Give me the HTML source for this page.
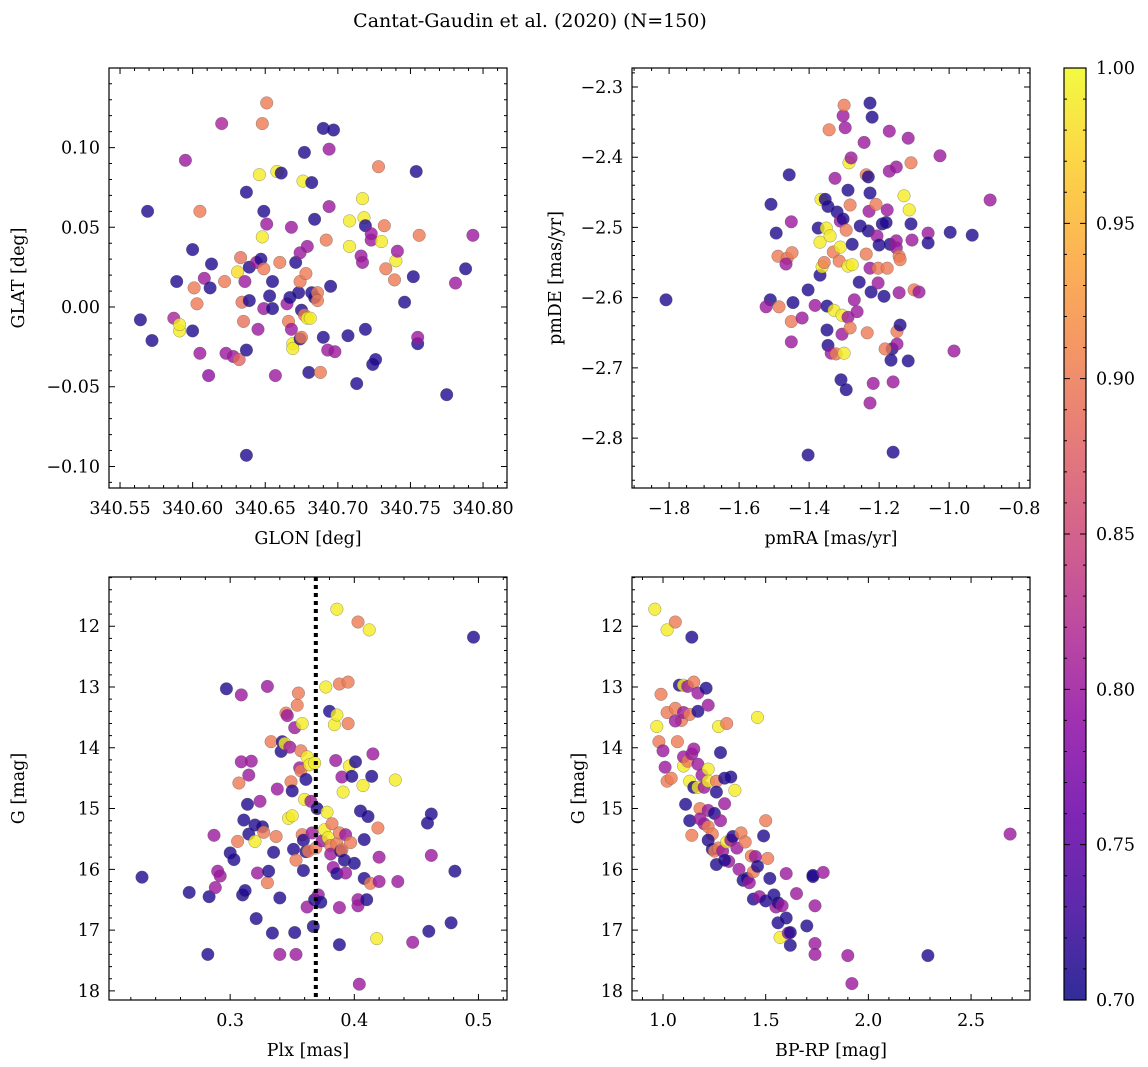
<!DOCTYPE html>
<html><head><meta charset="utf-8">
<style>
html,body{margin:0;padding:0;background:#fff;}
svg{display:block;font-family:"DejaVu Serif","Liberation Serif",serif;}
</style></head>
<body>
<svg id="chart" width="1148" height="1067" viewBox="0 0 1148 1067">
<defs>
<linearGradient id="plasma" x1="0" y1="1" x2="0" y2="0">
<stop offset="0" stop-color="#0d0887"/><stop offset="0.1" stop-color="#41049d"/><stop offset="0.2" stop-color="#6a00a8"/><stop offset="0.3" stop-color="#8f0da4"/><stop offset="0.4" stop-color="#b12a90"/><stop offset="0.5" stop-color="#cc4778"/><stop offset="0.6" stop-color="#e16462"/><stop offset="0.7" stop-color="#f2844b"/><stop offset="0.8" stop-color="#fca636"/><stop offset="0.9" stop-color="#fcce25"/><stop offset="1" stop-color="#f0f921"/>
</linearGradient>
</defs>
<text x="530" y="27" text-anchor="middle" font-size="19">Cantat-Gaudin et al. (2020) (N=150)</text>
</svg>
<script>
// ---- Panel 1: sky positions ----
const glon=[340.569,340.572,340.564,340.589,340.600,340.600,340.595,340.587,340.591,340.591,340.601,340.605,340.603,340.608,340.605,340.611,340.613,340.612,340.620,340.622,340.623,340.628,340.631,340.632,340.633,340.634,340.635,340.636,340.637,340.637,340.637,340.639,340.639,340.645,340.644,340.648,340.648,340.646,340.649,340.647,340.649,340.651,340.651,340.649,340.655,340.653,340.655,340.658,340.661,340.657,340.660,340.665,340.667,340.666,340.668,340.669,340.669,340.668,340.671,340.673,340.674,340.675,340.674,340.674,340.675,340.676,340.677,340.677,340.678,340.679,340.679,340.681,340.680,340.682,340.682,340.684,340.684,340.686,340.686,340.688,340.690,340.690,340.692,340.694,340.693,340.697,340.694,340.695,340.698,340.707,340.708,340.708,340.713,340.716,340.717,340.717,340.718,340.719,340.719,340.723,340.723,340.724,340.726,340.728,340.730,340.732,340.733,340.740,340.739,340.741,340.746,340.752,340.754,340.755,340.756,340.755,340.775,340.781,340.788,340.793];
const glat=[0.060,-0.021,-0.008,0.016,0.036,-0.015,0.092,-0.007,-0.015,-0.011,0.012,0.060,0.002,0.018,-0.029,-0.043,0.027,0.012,0.115,0.016,-0.029,-0.031,0.022,-0.033,0.031,0.003,-0.009,0.016,-0.093,0.072,-0.027,0.025,0.004,-0.014,0.028,0.115,0.044,0.083,0.060,0.030,-0.001,0.128,0.052,0.024,0.016,0.007,-0.001,0.085,0.084,-0.043,0.028,0.002,0.006,-0.009,0.050,-0.023,-0.026,-0.014,0.028,0.009,-0.020,-0.019,0.034,0.016,-0.002,0.079,0.097,-0.005,0.021,0.038,-0.007,-0.007,-0.041,0.009,0.078,0.055,0.006,0.009,0.004,-0.041,-0.019,0.112,0.042,0.099,-0.027,0.111,0.063,0.013,-0.028,-0.018,0.054,0.038,-0.048,0.032,0.028,0.068,0.056,0.051,-0.014,0.042,0.046,-0.036,-0.033,0.088,0.041,0.051,0.024,0.029,0.017,0.035,0.003,0.019,0.085,-0.023,0.045,-0.019,-0.055,0.015,0.024,0.045];
const probSky=[0.71,0.71,0.71,0.71,0.71,0.71,0.80,0.81,0.99,0.99,0.90,0.90,0.90,0.80,0.80,0.79,0.71,0.71,0.81,0.90,0.80,0.80,0.98,0.88,0.89,0.89,0.89,0.80,0.71,0.71,0.71,0.71,0.71,0.80,0.80,0.90,0.99,0.99,0.71,0.71,0.80,0.90,0.80,0.90,0.71,0.71,0.71,0.99,0.71,0.80,0.90,0.80,0.71,0.90,0.80,0.99,0.99,0.80,0.71,0.71,0.71,0.90,0.80,0.90,0.71,0.99,0.71,0.90,0.90,0.80,0.99,0.99,0.71,0.71,0.71,0.71,0.71,0.90,0.90,0.90,0.71,0.71,0.90,0.80,0.80,0.71,0.80,0.71,0.80,0.71,0.99,0.99,0.71,0.80,0.80,0.99,0.99,0.71,0.71,0.80,0.80,0.71,0.71,0.90,0.99,0.90,0.90,0.99,0.90,0.80,0.71,0.71,0.71,0.71,0.90,0.80,0.71,0.80,0.71,0.80];
// ---- Panel 2: proper motions ----
const pmra=[-1.809,-1.509,-1.494,-1.511,-1.523,-1.486,-1.489,-1.463,-1.457,-1.466,-1.449,-1.451,-1.451,-1.446,-1.451,-1.420,-1.403,-1.403,-1.383,-1.369,-1.374,-1.369,-1.366,-1.363,-1.357,-1.354,-1.346,-1.351,-1.349,-1.349,-1.346,-1.343,-1.340,-1.337,-1.331,-1.329,-1.326,-1.323,-1.320,-1.314,-1.311,-1.311,-1.309,-1.306,-1.306,-1.303,-1.303,-1.300,-1.300,-1.297,-1.294,-1.289,-1.286,-1.289,-1.289,-1.283,-1.294,-1.280,-1.283,-1.277,-1.277,-1.271,-1.263,-1.257,-1.254,-1.243,-1.237,-1.237,-1.234,-1.231,-1.226,-1.220,-1.226,-1.231,-1.229,-1.226,-1.223,-1.226,-1.217,-1.209,-1.206,-1.203,-1.200,-1.203,-1.191,-1.186,-1.180,-1.177,-1.171,-1.171,-1.169,-1.163,-1.177,-1.183,-1.166,-1.160,-1.160,-1.151,-1.149,-1.149,-1.151,-1.151,-1.143,-1.140,-1.143,-1.140,-1.129,-1.117,-1.117,-1.114,-1.109,-1.109,-1.106,-1.100,-1.086,-1.060,-1.060,-1.026,-0.997,-0.986,-0.934,-0.883];
const pmde=[-2.603,-2.467,-2.508,-2.603,-2.613,-2.613,-2.541,-2.544,-2.425,-2.552,-2.536,-2.492,-2.634,-2.607,-2.663,-2.629,-2.589,-2.824,-2.611,-2.568,-2.501,-2.521,-2.460,-2.556,-2.550,-2.460,-2.470,-2.501,-2.612,-2.646,-2.668,-2.361,-2.512,-2.679,-2.535,-2.618,-2.430,-2.680,-2.478,-2.548,-2.528,-2.491,-2.717,-2.652,-2.625,-2.488,-2.341,-2.326,-2.679,-2.358,-2.504,-2.447,-2.408,-2.555,-2.628,-2.643,-2.731,-2.401,-2.468,-2.553,-2.524,-2.603,-2.620,-2.578,-2.498,-2.379,-2.425,-2.538,-2.650,-2.505,-2.323,-2.343,-2.451,-2.428,-2.477,-2.558,-2.592,-2.750,-2.722,-2.467,-2.512,-2.558,-2.525,-2.579,-2.495,-2.598,-2.493,-2.475,-2.420,-2.363,-2.524,-2.673,-2.558,-2.673,-2.689,-2.820,-2.720,-2.519,-2.666,-2.648,-2.529,-2.414,-2.541,-2.546,-2.593,-2.639,-2.455,-2.373,-2.690,-2.475,-2.495,-2.408,-2.518,-2.589,-2.592,-2.508,-2.522,-2.398,-2.507,-2.676,-2.511,-2.461];
const probPm=[0.71,0.71,0.71,0.71,0.80,0.90,0.90,0.90,0.71,0.80,0.90,0.80,0.90,0.71,0.80,0.80,0.71,0.71,0.80,0.71,0.71,0.99,0.99,0.99,0.90,0.71,0.71,0.99,0.71,0.71,0.71,0.90,0.99,0.80,0.90,0.99,0.80,0.90,0.71,0.90,0.99,0.80,0.71,0.80,0.99,0.71,0.80,0.90,0.99,0.80,0.90,0.71,0.99,0.99,0.80,0.90,0.71,0.80,0.90,0.99,0.71,0.80,0.80,0.71,0.71,0.80,0.90,0.90,0.90,0.71,0.71,0.71,0.71,0.71,0.80,0.80,0.71,0.80,0.80,0.90,0.80,0.90,0.71,0.80,0.71,0.71,0.71,0.80,0.80,0.80,0.71,0.71,0.90,0.90,0.71,0.71,0.80,0.80,0.80,0.90,0.80,0.80,0.90,0.90,0.80,0.71,0.99,0.80,0.71,0.99,0.71,0.90,0.80,0.90,0.80,0.80,0.71,0.80,0.71,0.80,0.71,0.80];
// ---- Panel 3: parallax vs G ----
const plx=[0.229,0.267,0.283,0.282,0.287,0.288,0.290,0.292,0.297,0.300,0.303,0.306,0.307,0.309,0.309,0.310,0.311,0.312,0.314,0.315,0.315,0.317,0.320,0.320,0.321,0.322,0.324,0.326,0.327,0.330,0.330,0.331,0.333,0.334,0.335,0.337,0.338,0.340,0.341,0.340,0.342,0.344,0.345,0.346,0.347,0.348,0.349,0.350,0.350,0.351,0.352,0.352,0.353,0.353,0.354,0.355,0.356,0.357,0.357,0.358,0.358,0.359,0.359,0.360,0.361,0.361,0.362,0.362,0.363,0.364,0.365,0.366,0.367,0.368,0.368,0.369,0.370,0.371,0.373,0.374,0.376,0.377,0.378,0.379,0.380,0.381,0.381,0.382,0.383,0.384,0.385,0.386,0.386,0.386,0.386,0.388,0.388,0.388,0.388,0.389,0.390,0.390,0.391,0.392,0.393,0.393,0.395,0.395,0.396,0.397,0.398,0.400,0.401,0.403,0.403,0.403,0.404,0.405,0.407,0.408,0.408,0.410,0.411,0.412,0.413,0.414,0.415,0.418,0.419,0.420,0.420,0.433,0.435,0.447,0.459,0.460,0.462,0.462,0.478,0.481,0.496];
const gPlx=[16.13,16.38,16.45,17.40,15.44,16.30,16.03,16.11,13.03,15.73,15.84,15.54,14.58,13.13,14.23,16.42,15.19,16.35,14.93,14.45,15.42,14.22,15.54,15.27,16.81,16.06,14.88,15.30,15.39,12.99,16.22,16.03,13.90,17.05,15.72,15.46,14.68,16.47,14.06,17.40,13.90,13.93,13.43,13.47,15.16,13.99,14.56,14.71,15.12,15.67,13.67,17.04,17.40,15.85,13.30,13.10,14.33,14.05,14.38,13.60,15.43,16.02,15.52,14.85,14.52,15.71,14.15,16.62,15.70,14.28,14.88,15.40,16.94,14.25,16.50,15.65,15.00,16.42,16.54,15.53,15.35,13.00,15.06,15.48,13.40,15.61,15.75,15.25,15.97,13.62,14.21,16.07,13.46,15.58,11.72,12.95,17.24,16.63,15.40,15.70,15.68,14.48,14.73,15.85,16.06,15.43,12.92,13.60,14.30,15.56,14.47,15.90,14.23,16.50,16.60,11.93,17.89,15.04,14.62,16.15,15.51,16.50,15.13,12.06,16.23,14.47,14.10,17.14,15.32,15.80,16.20,14.53,16.20,17.20,15.24,17.02,15.09,15.77,16.88,16.03,12.18];
const probPlx=[0.71,0.71,0.71,0.71,0.80,0.80,0.80,0.80,0.71,0.71,0.71,0.90,0.90,0.80,0.80,0.71,0.71,0.71,0.71,0.80,0.71,0.80,0.99,0.71,0.71,0.80,0.80,0.71,0.90,0.80,0.90,0.71,0.90,0.71,0.71,0.90,0.80,0.71,0.71,0.80,0.71,0.99,0.90,0.80,0.99,0.80,0.90,0.71,0.99,0.71,0.80,0.71,0.80,0.90,0.90,0.90,0.80,0.90,0.90,0.99,0.90,0.71,0.71,0.99,0.71,0.71,0.99,0.80,0.90,0.99,0.80,0.80,0.71,0.99,0.71,0.90,0.71,0.80,0.71,0.80,0.99,0.99,0.99,0.99,0.71,0.90,0.80,0.90,0.80,0.99,0.80,0.71,0.99,0.90,0.99,0.90,0.71,0.80,0.90,0.71,0.90,0.80,0.99,0.71,0.80,0.80,0.90,0.90,0.99,0.90,0.71,0.71,0.71,0.80,0.80,0.90,0.80,0.71,0.99,0.71,0.71,0.71,0.71,0.99,0.90,0.71,0.80,0.99,0.90,0.80,0.80,0.99,0.80,0.80,0.71,0.71,0.71,0.80,0.71,0.71,0.71];
const plxRef=[0.369];
// ---- Panel 4: colour-magnitude ----
const bprp=[0.96,1.02,1.06,1.14,0.97,0.99,1.02,1.06,1.08,1.10,1.12,1.15,1.17,1.09,1.06,1.10,1.13,1.17,1.21,1.22,1.27,1.31,1.46,0.98,1.00,1.01,1.02,1.04,1.07,1.10,1.10,1.12,1.14,1.15,1.17,1.19,1.13,1.15,1.17,1.11,1.20,1.22,1.22,1.26,1.30,1.28,1.33,1.35,1.18,1.22,1.13,1.14,1.18,1.20,1.22,1.25,1.26,1.30,1.28,1.24,1.22,1.24,1.25,1.27,1.26,1.29,1.31,1.32,1.30,1.33,1.34,1.36,1.38,1.37,1.39,1.40,1.41,1.42,1.43,1.44,1.45,1.46,1.44,1.47,1.49,1.50,1.50,1.51,1.52,1.54,1.55,1.56,1.56,1.57,1.58,1.60,1.61,1.62,1.62,1.60,1.65,1.70,1.73,1.73,1.74,1.74,1.74,1.78,1.90,1.92,2.29,2.69];
const gCmd=[11.72,12.06,11.93,12.18,13.65,13.12,13.42,13.35,12.97,12.97,12.99,12.92,13.10,13.55,13.56,13.42,13.45,13.40,13.02,13.30,13.65,13.60,13.50,13.90,14.05,14.32,14.55,14.50,13.90,14.30,14.15,14.22,14.10,14.02,14.27,14.45,14.55,14.65,14.65,14.93,14.65,14.35,14.55,14.55,14.50,14.08,14.48,14.70,15.00,15.03,15.20,15.44,15.17,15.25,15.30,15.08,14.73,14.92,15.20,15.42,15.52,15.67,15.70,15.65,15.92,15.70,15.55,15.87,15.85,15.52,15.46,15.65,15.40,16.00,16.18,15.55,16.15,16.22,15.78,16.04,15.79,15.95,16.49,16.45,15.45,16.52,15.20,15.82,16.15,16.42,16.62,16.55,16.88,17.12,16.60,16.80,17.05,17.04,17.25,16.07,16.40,16.93,16.12,16.10,16.60,17.22,17.40,16.05,17.42,17.88,17.42,15.42];
const probCmd=[0.99,0.99,0.90,0.71,0.99,0.90,0.90,0.90,0.71,0.99,0.80,0.90,0.80,0.90,0.80,0.80,0.90,0.71,0.71,0.80,0.99,0.90,0.99,0.90,0.80,0.80,0.90,0.90,0.90,0.99,0.80,0.90,0.80,0.80,0.80,0.80,0.99,0.71,0.99,0.71,0.80,0.99,0.99,0.90,0.71,0.71,0.71,0.99,0.90,0.80,0.71,0.90,0.80,0.80,0.90,0.71,0.71,0.80,0.80,0.90,0.71,0.71,0.90,0.90,0.71,0.80,0.99,0.80,0.71,0.80,0.71,0.80,0.90,0.80,0.71,0.90,0.71,0.80,0.90,0.90,0.80,0.71,0.71,0.80,0.71,0.71,0.90,0.90,0.71,0.71,0.80,0.71,0.71,0.99,0.80,0.71,0.80,0.71,0.71,0.80,0.80,0.71,0.71,0.71,0.80,0.80,0.80,0.80,0.80,0.80,0.71,0.80];
// ---- tick labels ----
const ticksGlon=[340.55,340.60,340.65,340.70,340.75,340.80];
const ticksGlat=[-0.10,-0.05,0.00,0.05,0.10];
const ticksPmra=[-1.8,-1.6,-1.4,-1.2,-1.0,-0.8];
const ticksPmde=[-2.8,-2.7,-2.6,-2.5,-2.4,-2.3];
const ticksPlx=[0.3,0.4,0.5];
const ticksG=[12,13,14,15,16,17,18];
const ticksBprp=[1.0,1.5,2.0,2.5];
const ticksCbar=[0.70,0.75,0.80,0.85,0.90,0.95,1.00];

const NS='http://www.w3.org/2000/svg';
const svg=document.getElementById('chart');
const FS=17.5;
function mk(tag,attrs,parent){const e=document.createElementNS(NS,tag);for(const k in attrs)e.setAttribute(k,attrs[k]);(parent||svg).appendChild(e);return e;}
const stops=[[0,13,8,135],[0.1,65,4,157],[0.2,106,0,168],[0.3,143,13,164],[0.4,177,42,144],[0.5,204,71,120],[0.6,225,100,98],[0.7,242,132,75],[0.8,252,166,54],[0.9,252,206,37],[1,240,249,33]];
function plasma(t){t=Math.max(0,Math.min(1,t));for(let i=1;i<stops.length;i++){if(t<=stops[i][0]){const a=stops[i-1],b=stops[i],f=(t-a[0])/(b[0]-a[0]);return `rgb(${Math.round(a[1]+f*(b[1]-a[1]))},${Math.round(a[2]+f*(b[2]-a[2]))},${Math.round(a[3]+f*(b[3]-a[3]))})`;}}return 'rgb(240,249,33)';}
function fmt(v,d){return (v<0?'\u2212':'')+Math.abs(v).toFixed(d);}

function panel(o){
  const g=mk('g',{});
  
  
  const sx=v=>o.x0+(v-o.xd[0])/(o.xd[1]-o.xd[0])*(o.x1-o.x0);
  const sy=v=>o.inv? o.y0+(v-o.yd[0])/(o.yd[1]-o.yd[0])*(o.y1-o.y0) : o.y1-(v-o.yd[0])/(o.yd[1]-o.yd[0])*(o.y1-o.y0);
  const pg=mk('g',{},g);
  
  
  for(let i=0;i<o.xs.length;i++){
    const c=mk('circle',{cx:sx(o.xs[i]).toFixed(1),cy:sy(o.ys[i]).toFixed(1),r:6.3,fill:plasma((o.ps[i]-0.7)/0.3),'fill-opacity':0.8,stroke:'#555','stroke-width':0.5,'stroke-opacity':0.6},pg);
    
    
  }
  if(o.vline){for(const v of o.vline){const l=mk('line',{x1:sx(v),x2:sx(v),y1:o.y0,y2:o.y1,stroke:'#000','stroke-width':4,'stroke-dasharray':'4,4'},g);
    
    }}
  const f=mk('rect',{x:o.x0,y:o.y0,width:o.x1-o.x0,height:o.y1-o.y0,fill:'none',stroke:'#000','stroke-width':1.2},g);
  
  
  let path='';
  const xmin=Math.min(...o.xd),xmax=Math.max(...o.xd),ymin=Math.min(...o.yd),ymax=Math.max(...o.yd);
  for(let v=Math.ceil(xmin/o.xm-1e-6)*o.xm;v<=xmax+1e-9;v+=o.xm){const p=sx(v);path+=`M${p},${o.y1}v-3M${p},${o.y0}v3`;}
  for(let v=Math.ceil(ymin/o.ym-1e-6)*o.ym;v<=ymax+1e-9;v+=o.ym){const p=sy(v);path+=`M${o.x0},${p}h3M${o.x1},${p}h-3`;}
  for(const v of o.xt){const p=sx(v);path+=`M${p},${o.y1}v-6M${p},${o.y0}v6`;
    const t=mk('text',{x:p,y:o.y1+26,'text-anchor':'middle','font-size':FS},g);t.textContent=fmt(v,o.xdig);
    
    }
  for(const v of o.yt){const p=sy(v);path+=`M${o.x0},${p}h6M${o.x1},${p}h-6`;
    const t=mk('text',{x:o.x0-9,y:p+6,'text-anchor':'end','font-size':FS},g);t.textContent=fmt(v,o.ydig);
    
    }
  const tk=mk('path',{d:path,stroke:'#000','stroke-width':1,fill:'none'},g);
  
  
  const xl=mk('text',{x:(o.x0+o.x1)/2,y:o.y1+56,'text-anchor':'middle','font-size':FS},g);xl.textContent=o.xlabel;
  
  
  const yl=mk('text',{x:0,y:0,'text-anchor':'middle','font-size':FS,transform:`translate(${o.ylx},${(o.y0+o.y1)/2}) rotate(-90)`},g);yl.textContent=o.ylabel;
  
  
}

panel({name:'sky-position-panel',x0:109,x1:507,y0:68,y1:488,xd:[340.5424,340.8165],yd:[-0.1135,0.1499],xs:glon,ys:glat,ps:probSky,xt:ticksGlon,yt:ticksGlat,xm:0.01,ym:0.01,xdig:2,ydig:2,xlabel:'GLON [deg]',ylabel:'GLAT [deg]',ylx:24});
panel({name:'proper-motion-panel',x0:632,x1:1030,y0:68,y1:488,xd:[-1.906,-0.769],yd:[-2.871,-2.273],xs:pmra,ys:pmde,ps:probPm,xt:ticksPmra,yt:ticksPmde,xm:0.05,ym:0.02,xdig:1,ydig:1,xlabel:'pmRA [mas/yr]',ylabel:'pmDE [mas/yr]',ylx:561});
panel({name:'parallax-magnitude-panel',x0:109,x1:507,y0:577,y1:1000,xd:[0.2024,0.523],yd:[11.19,18.15],inv:true,xs:plx,ys:gPlx,ps:probPlx,xt:ticksPlx,yt:ticksG,xm:0.02,ym:0.2,xdig:1,ydig:0,xlabel:'Plx [mas]',ylabel:'G [mag]',ylx:24,vline:plxRef});
panel({name:'color-magnitude-panel',x0:632,x1:1030,y0:577,y1:1000,xd:[0.849,2.787],yd:[11.19,18.15],inv:true,xs:bprp,ys:gCmd,ps:probCmd,xt:ticksBprp,yt:ticksG,xm:0.1,ym:0.2,xdig:1,ydig:0,xlabel:'BP-RP [mag]',ylabel:'G [mag]',ylx:584});

const cb=mk('g',{});


const cx0=1064,cx1=1086,cy0=68,cy1=1000;
mk('rect',{x:cx0,y:cy0,width:cx1-cx0,height:cy1-cy0,fill:'url(#plasma)','fill-opacity':0.85},cb);
mk('rect',{x:cx0,y:cy0,width:cx1-cx0,height:cy1-cy0,fill:'none',stroke:'#000','stroke-width':1.2},cb);
const cy=v=>cy1-(v-0.7)/0.3*(cy1-cy0);
let cp='';
for(let v=0.70;v<=1.0001;v+=0.01){cp+=`M${cx1},${cy(v)}h-3M${cx0},${cy(v)}h3`;}
for(const v of ticksCbar){cp+=`M${cx1},${cy(v)}h-6M${cx0},${cy(v)}h6`;
  const t=mk('text',{x:cx1+10,y:cy(v)+6,'font-size':FS},cb);t.textContent=v.toFixed(2);
  
  }
mk('path',{d:cp,stroke:'#000','stroke-width':1,fill:'none'},cb);
</script>
</body></html>
